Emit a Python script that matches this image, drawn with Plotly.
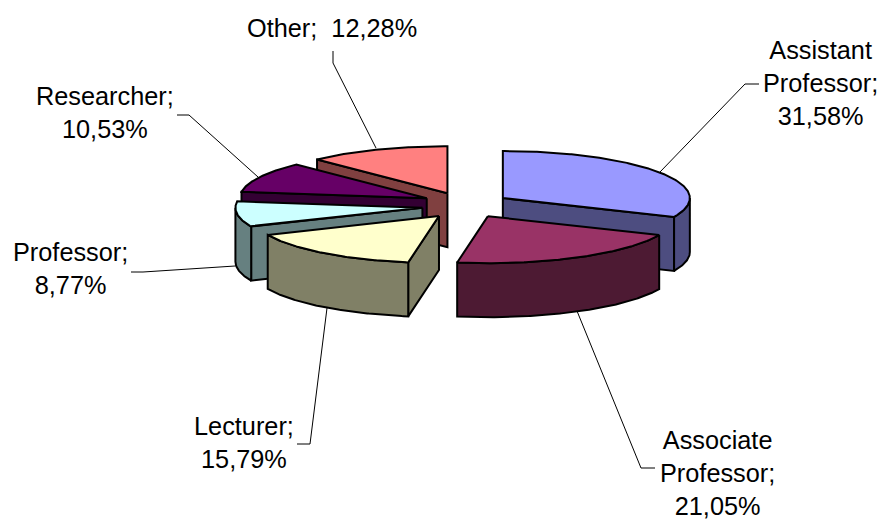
import math
import plotly.graph_objects as go

# ---- data ----
categories = ["Assistant Professor", "Associate Professor", "Lecturer", "Professor", "Researcher", "Other"]
values = [31.58, 21.05, 15.79, 8.77, 10.53, 12.28]
top_colors = ["#9999FF", "#993366", "#FFFFCC", "#CCFFFF", "#660066", "#FF8080"]
side_colors = ["#4D4D80", "#4D1A33", "#808066", "#668080", "#330033", "#804040"]
label_texts = ["Assistant<br>Professor;<br>31,58%", "Associate<br>Professor;<br>21,05%",
               "Lecturer;<br>15,79%", "Professor;<br>8,77%", "Researcher;<br>10,53%", "Other;  12,28%"]

# ---- layout constants (pixel-like plot coordinates) ----
W, H = 881, 519
CX, CY = 466, 205      # pie centre before explosion
RX, RY = 187, 47       # ellipse radii of the tilted pie
DEPTH = 54
EXPLODE_X, EXPLODE_Y = 44, 12.7
slice_nudge = [(0, 0), (1, 0), (0, 1), (0, 1), (0, -1), (-2, 0)]
DRAW_ORDER = [5, 4, 3, 0, 1, 2]
label_pos = [(820, 83), (717, 473), (244, 442), (70, 268), (105, 112), (332, 28)]
leaders = [
    [(660, 172), (745, 84), (759, 84)],
    [(577, 311), (641, 468), (655, 468)],
    [(327, 308), (310, 444), (297, 444)],
    [(235, 266), (143, 272), (131, 272)],
    [(258, 177), (189, 115), (177, 115)],
    [(376, 148), (333, 63), (333, 51)],
]


def pt(ax, ay, deg, dy=0.0):
    r = math.radians(deg)
    return ax + RX * math.sin(r), ay - RY * math.cos(r) + dy


def arc(ax, ay, a0, a1, dy=0.0):
    n = max(2, int(abs(a1 - a0) * 2))
    return [pt(ax, ay, a0 + (a1 - a0) * i / n, dy) for i in range(n + 1)]


def poly(points, fill):
    xs = [p[0] for p in points]
    ys = [p[1] for p in points]
    return go.Scatter(x=xs, y=ys, mode="lines", fill="toself", fillcolor=fill,
                      line=dict(color="black", width=2), hoverinfo="skip", showlegend=False)


total = sum(values)
angles = []
acc = 0.0
for v in values:
    angles.append((acc, acc + v / total * 360))
    acc += v / total * 360

fig = go.Figure()

for i in DRAW_ORDER:
    a0, a1 = angles[i]
    mid = math.radians((a0 + a1) / 2)
    ax = CX + EXPLODE_X * math.sin(mid) + slice_nudge[i][0]
    ay = CY - EXPLODE_Y * math.cos(mid) + slice_nudge[i][1]
    # radial faces turned towards the viewer
    if math.sin(math.radians(a0)) < -1e-6:
        p = pt(ax, ay, a0)
        fig.add_trace(poly([(ax, ay), p, (p[0], p[1] + DEPTH), (ax, ay + DEPTH), (ax, ay)], side_colors[i]))
    if math.sin(math.radians(a1)) > 1e-6:
        p = pt(ax, ay, a1)
        fig.add_trace(poly([(ax, ay), p, (p[0], p[1] + DEPTH), (ax, ay + DEPTH), (ax, ay)], side_colors[i]))
    # outer rim on the front half
    r0, r1 = max(a0, 90), min(a1, 270)
    if r1 > r0:
        front = arc(ax, ay, r0, r1)
        back = arc(ax, ay, r1, r0, DEPTH)
        fig.add_trace(poly(front + back + [front[0]], side_colors[i]))
    # top face
    top = [(ax, ay)] + arc(ax, ay, a0, a1) + [(ax, ay)]
    fig.add_trace(poly(top, top_colors[i]))

for seg in leaders:
    fig.add_trace(go.Scatter(x=[p[0] for p in seg], y=[p[1] for p in seg], mode="lines",
                             line=dict(color="black", width=1), hoverinfo="skip", showlegend=False))

for text, (x, y) in zip(label_texts, label_pos):
    fig.add_annotation(x=x, y=y, text=text, showarrow=False, align="center",
                       font=dict(family="Liberation Sans", size=25.3, color="black"))

fig.update_layout(
    width=W, height=H, margin=dict(l=0, r=0, t=0, b=0),
    paper_bgcolor="white", plot_bgcolor="white", showlegend=False,
    xaxis=dict(range=[0, W], visible=False, fixedrange=True),
    yaxis=dict(range=[H, 0], visible=False, fixedrange=True),
)
fig.write_html("out.html", config={"displayModeBar": False},
               post_script="document.body.style.margin='0';document.documentElement.style.overflow='hidden';")
